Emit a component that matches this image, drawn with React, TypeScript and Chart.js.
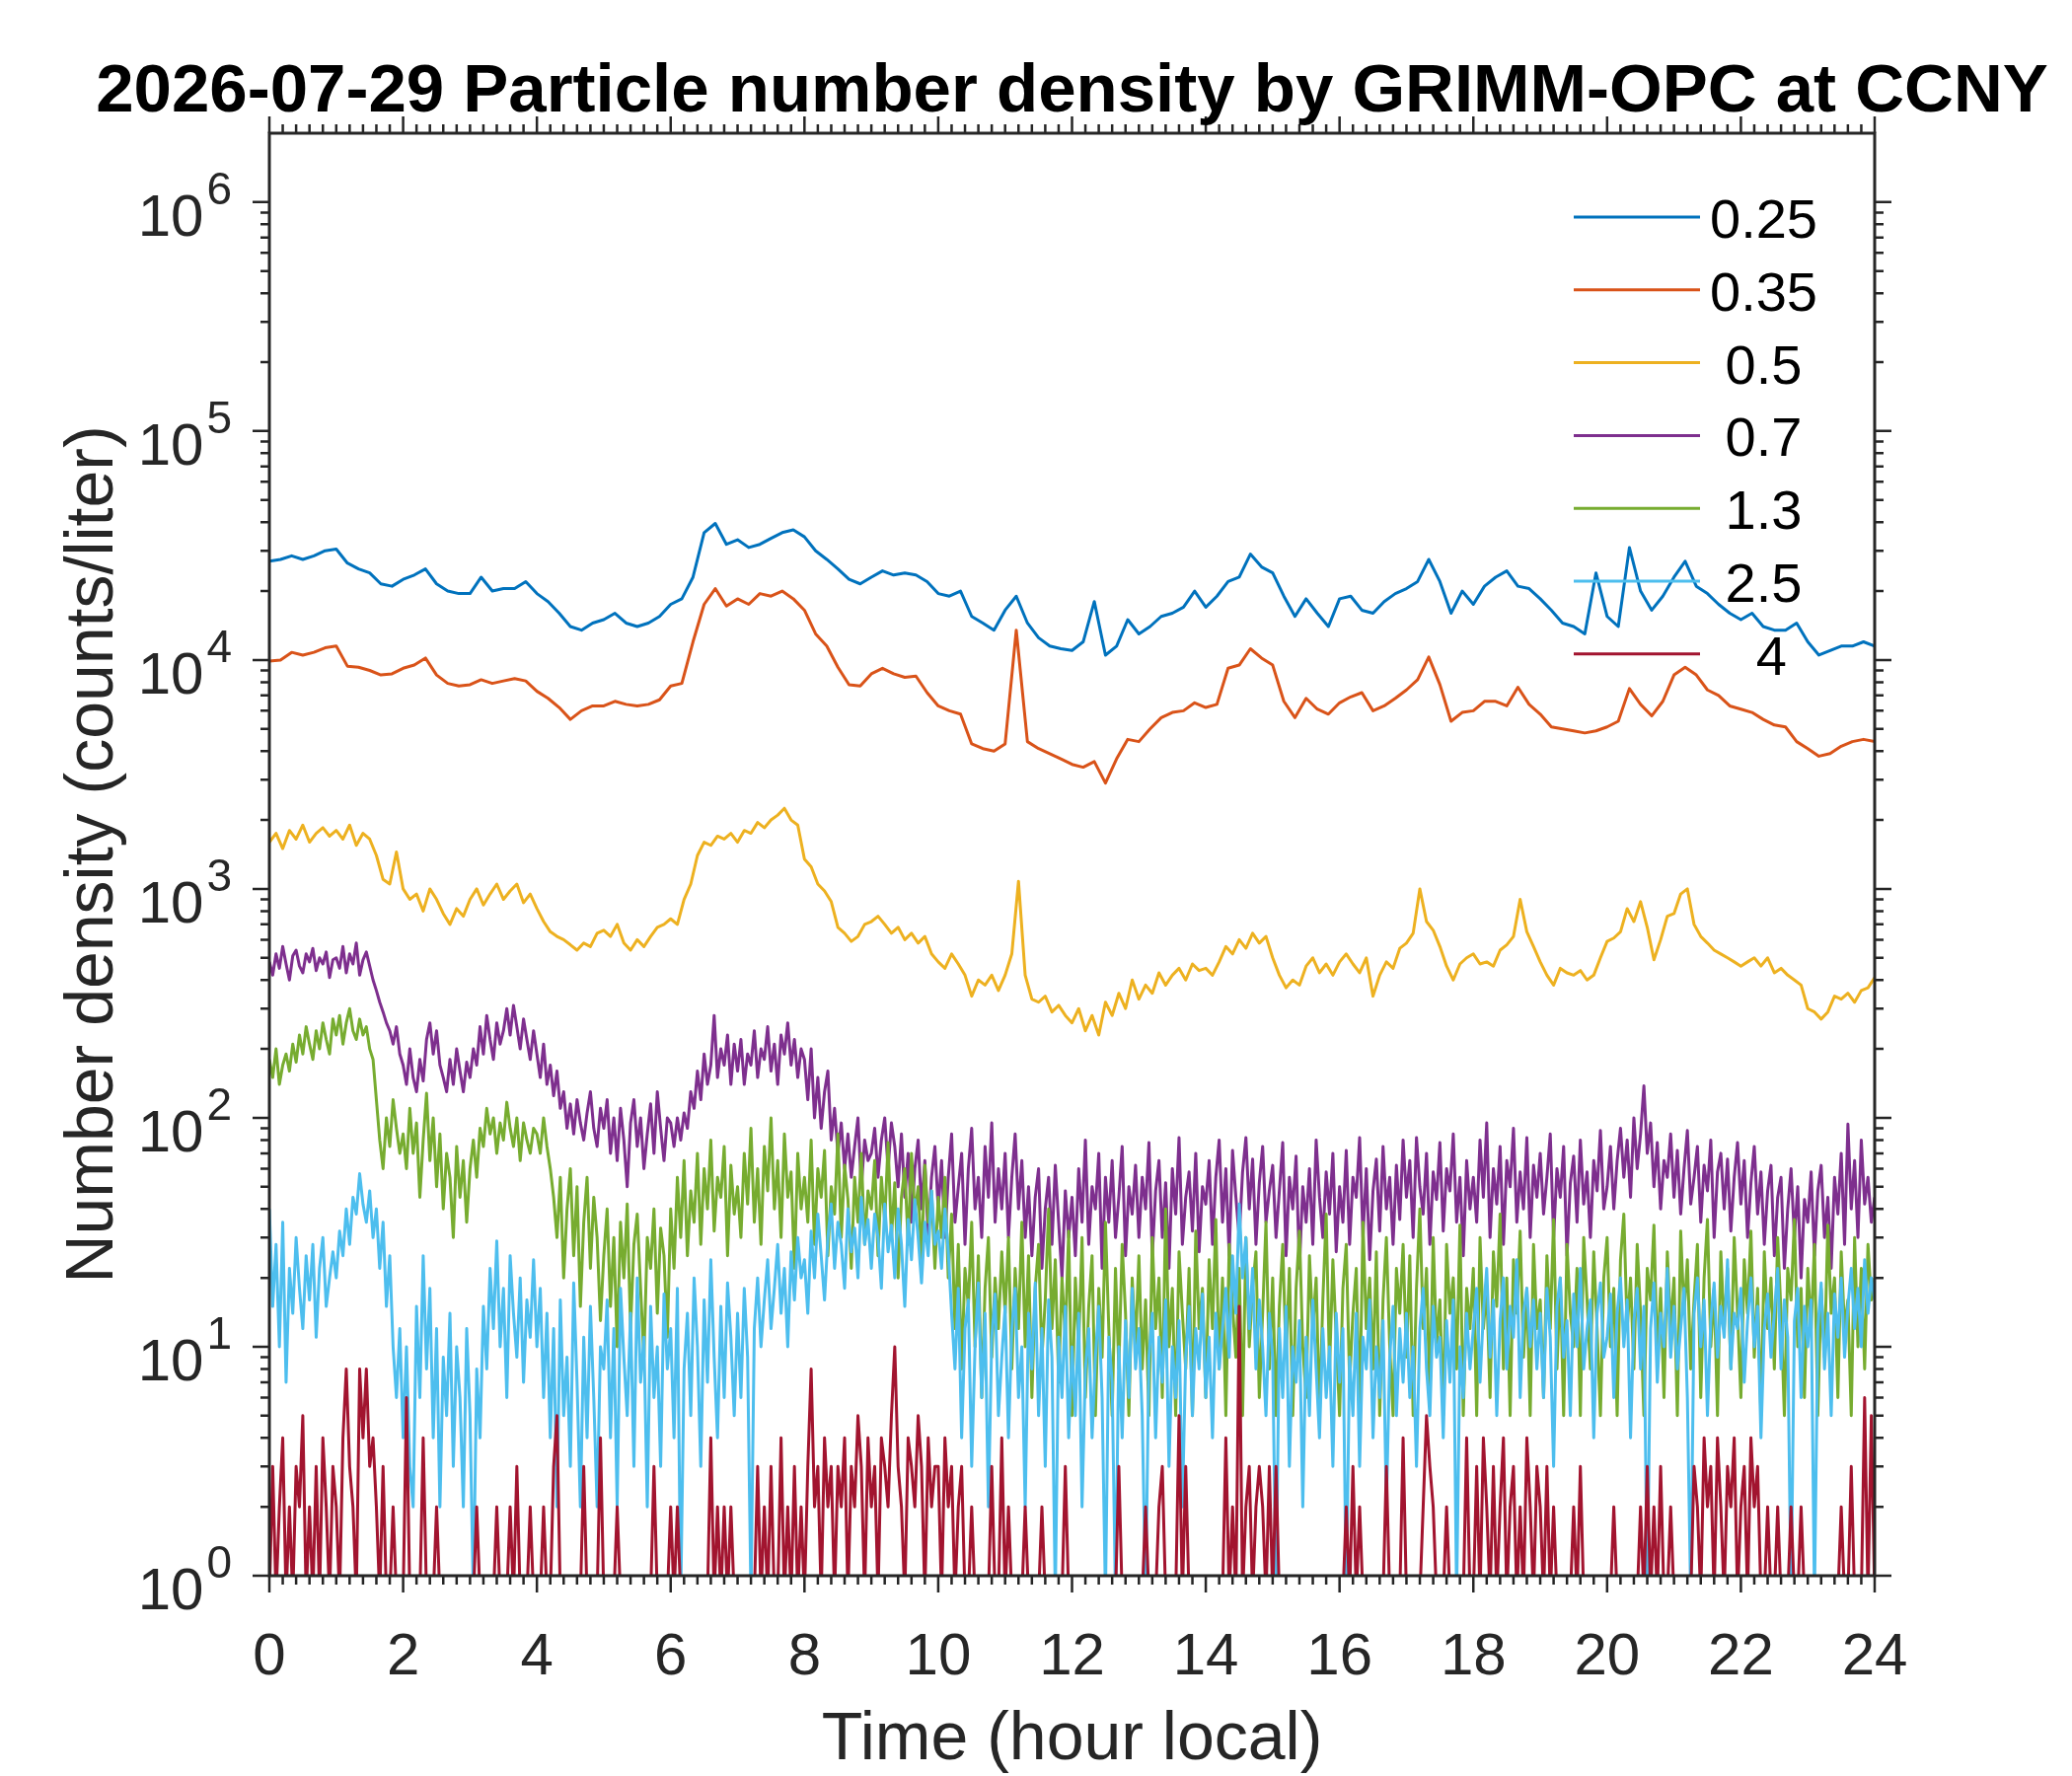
import { useEffect, useRef } from "react";
import { Chart, registerables } from "chart.js";

Chart.register(...registerables);

// ---------------- text ----------------
const TITLE = "2026-07-29 Particle number density by GRIMM-OPC at CCNY";
const X_LABEL = "Time (hour local)";
const Y_LABEL = "Number density (counts/liter)";
const SIZE_LABELS = ["0.25", "0.35", " 0.5", " 0.7", " 1.3", " 2.5", "   4"];
const COLORS = ["#0072BD", "#D95319", "#EDB120", "#7E2F8E", "#77AC30", "#4DBEEE", "#A2142F"];

// ---------------- axes ----------------
const X_MIN = 0;
const X_MAX = 24;
const X_TICKS = [0, 2, 4, 6, 8, 10, 12, 14, 16, 18, 20, 22, 24];
const X_MINOR_STEP = 0.2;
const Y_MIN = 1;
const Y_MAX = 2e6;
const Y_TICK_EXPONENTS = [0, 1, 2, 3, 4, 5, 6];

// sampling interval (hours) of each series
const STEP_COARSE = 1 / 6;
const STEP_MID = 0.1;
const STEP_FINE = 0.05;

// ---------------- data (counts/liter) ----------------
// 0.25 um, every 10 min
const N_025 = [
  27000, 27500, 28500, 27500, 28500, 30000,
  30500, 26500, 25000, 24000, 21500, 21000,
  22500, 23500, 25000, 21500, 20000, 19500,
  19500, 23000, 20000, 20500, 20500, 22000,
  19500, 18000, 16000, 14000, 13500, 14500,
  15000, 16000, 14500, 14000, 14500, 15500,
  17500, 18500, 23000, 36000, 39500, 32000,
  33500, 31000, 32000, 34000, 36000, 37000,
  34500, 30000, 27500, 25000, 22500, 21500,
  23000, 24500, 23500, 24000, 23500, 22000,
  19500, 19000, 20000, 15500, 14500, 13500,
  16500, 19000, 14500, 12500, 11500, 11200,
  11000, 12000, 18000, 10500, 11500, 15000,
  13000, 14000, 15500, 16000, 17000, 20000,
  17000, 19000, 22000, 23000, 29000, 25500,
  24000, 19000, 15500, 18500, 16000, 14000,
  18500, 19000, 16500, 16000, 18000, 19500,
  20500, 22000, 27500, 22000, 16000, 20000,
  17500, 21000, 23000, 24500, 21000, 20500,
  18500, 16500, 14500, 14000, 13000, 24000,
  15500, 14000, 31000, 20000, 16500, 19000,
  23000, 27000, 21000, 19500, 17500, 16000,
  15000, 16000, 14000, 13500, 13500, 14500,
  12000, 10500, 11000, 11500, 11500, 12000,
  11500,
];

// 0.35 um, every 10 min
const N_035 = [
  9900, 10000, 10800, 10500, 10800, 11300,
  11500, 9400, 9300, 9000, 8600, 8700,
  9200, 9500, 10200, 8600, 7900, 7700,
  7800, 8200, 7900, 8100, 8300, 8100,
  7300, 6800, 6200, 5500, 6000, 6300,
  6300, 6600, 6400, 6300, 6400, 6700,
  7700, 7900, 12000, 17500, 20500, 17200,
  18500, 17500, 19500, 19000, 20000, 18500,
  16500, 13000, 11500, 9300, 7800, 7700,
  8700, 9200, 8700, 8400, 8500, 7200,
  6300, 6000, 5800, 4300, 4100, 4000,
  4300, 13500, 4400, 4100, 3900, 3700,
  3500, 3400, 3600, 2900, 3700, 4500,
  4400, 5000, 5600, 5900, 6000, 6500,
  6200, 6400, 9200, 9500, 11200, 10200,
  9500, 6600, 5600, 6800, 6100, 5800,
  6500, 6900, 7200, 6000, 6300, 6800,
  7400, 8200, 10300, 7800, 5400, 5900,
  6000, 6600, 6600, 6300, 7600, 6400,
  5800, 5100, 5000, 4900, 4800, 4900,
  5100, 5400, 7500, 6400, 5700, 6600,
  8600, 9300, 8600, 7400, 7000, 6300,
  6100, 5900, 5500, 5200, 5100, 4400,
  4100, 3800, 3900, 4200, 4400, 4500,
  4400,
];

// 0.5 um, every 6 min
const N_05 = [
  1600, 1750, 1500, 1800, 1650, 1900, 1600, 1750, 1850, 1700,
  1800, 1650, 1900, 1550, 1750, 1650, 1400, 1100, 1050, 1450,
  1000, 900, 950, 800, 1000, 900, 780, 700, 820, 760,
  900, 1000, 850, 950, 1050, 900, 980, 1050, 870, 950,
  820, 720, 650, 620, 600, 570, 540, 580, 560, 640,
  660, 620, 700, 580, 540, 600, 560, 620, 680, 700,
  740, 700, 900, 1050, 1400, 1600, 1550, 1700, 1650, 1750,
  1600, 1800, 1750, 1950, 1850, 2000, 2100, 2250, 2000, 1900,
  1350, 1250, 1050, 980, 880, 680, 640, 590, 620, 700,
  720, 760, 700, 640, 680, 600, 640, 580, 620, 520,
  480, 450, 520, 470, 420, 340, 400, 380, 420, 360,
  420, 520, 1080, 420, 330, 320, 340, 290, 310, 280,
  260, 300, 240, 280, 230, 320, 280, 350, 300, 400,
  330, 380, 350, 430, 380, 420, 450, 400, 470, 440,
  450, 420, 480, 560, 520, 600, 550, 640, 580, 620,
  500, 420, 370, 400, 380, 460, 500, 430, 470, 420,
  480, 520, 470, 430, 500, 340, 420, 480, 450, 550,
  580, 640, 1000, 720, 660, 560, 460, 400, 470, 500,
  520, 470, 480, 460, 540, 570, 620, 900, 650, 560,
  480, 420, 380, 450, 430, 420, 440, 400, 420, 500,
  590, 610, 650, 820, 720, 880, 680, 490, 600, 760,
  780, 950, 1000, 700, 620, 580, 540, 520, 500, 480,
  460, 480, 500, 460, 500, 430, 450, 420, 400, 380,
  300, 290, 270, 290, 340, 330, 350, 320, 360, 370,
  410,
];

// 0.7 um, every 3 min
const N_07 = [
  480, 420, 520, 450, 560, 470, 400, 510, 540, 460, 430, 520, 480, 550, 440, 500, 470, 530, 410, 490,
  500, 450, 560, 430, 520, 470, 580, 420, 490, 530, 460, 400, 360, 320, 290, 260, 240, 210, 250, 190,
  170, 140, 200, 150, 130, 180, 145, 220, 260, 190, 240, 170, 150, 130, 180, 140, 200, 160, 130, 175,
  150, 200, 170, 250, 190, 280, 220, 180, 260, 210, 240, 300, 230, 310, 250, 200, 270, 220, 180, 240,
  190, 150, 210, 140, 170, 125, 160, 110, 130, 90, 115, 85, 120, 95, 80, 105, 130, 90, 75, 110,
  90, 120, 70, 100, 65, 110, 80, 50, 95, 120, 75, 100, 60, 85, 115, 70, 130, 90, 65, 100,
  95, 75, 100, 80, 105, 90, 130, 110, 160, 120, 190, 140, 170, 280, 150, 200, 170, 230, 140, 210,
  160, 220, 140, 190, 170, 240, 150, 200, 180, 250, 160, 210, 140, 230, 190, 260, 170, 220, 150, 200,
  180, 120, 200, 100, 150, 90, 130, 160, 80, 110, 70, 95, 60, 85, 55, 75, 100, 50, 80, 65,
  70, 90, 55, 80, 100, 60, 95, 75, 50, 85, 45, 70, 35, 60, 80, 40, 65, 30, 55, 75,
  40, 65, 30, 55, 85, 35, 50, 70, 28, 60, 90, 40, 55, 30, 75, 45, 95, 35, 60, 40,
  70, 30, 55, 85, 40, 65, 30, 50, 25, 45, 60, 22, 40, 55, 28, 62, 35, 20, 48, 30,
  45, 25, 60, 35, 80, 28, 50, 40, 70, 22, 55, 35, 65, 30, 45, 75, 25, 50, 38, 62,
  30, 55, 40, 78, 25, 48, 65, 30, 52, 22, 60, 38, 82, 28, 45, 58, 32, 70, 26, 50,
  42, 65, 28, 55, 80, 35, 60, 25, 72, 45, 30, 58, 82, 40, 66, 28, 52, 75, 35, 48,
  62, 30, 48, 78, 25, 55, 40, 68, 22, 50, 35, 60, 28, 80, 45, 30, 58, 38, 70, 26,
  50, 35, 72, 28, 55, 45, 82, 30, 60, 24, 48, 66, 32, 75, 40, 55, 28, 62, 36, 80,
  45, 65, 30, 82, 50, 38, 70, 28, 58, 44, 78, 32, 60, 48, 85, 35, 55, 25, 65, 40,
  55, 35, 80, 45, 95, 30, 60, 42, 75, 28, 65, 50, 90, 35, 58, 40, 82, 30, 62, 45,
  70, 38, 55, 85, 30, 60, 45, 75, 25, 52, 68, 35, 80, 42, 58, 30, 65, 48, 88, 40,
  50, 75, 40, 65, 90, 55, 80, 45, 100, 60, 85, 138, 70, 95, 50, 78, 40, 65, 55, 85,
  45, 72, 38, 60, 88, 42, 55, 75, 35, 62, 48, 80, 30, 58, 70, 40, 66, 32, 55, 78,
  42, 65, 30, 52, 75, 38, 58, 28, 48, 62, 25, 45, 55, 22, 40, 60, 30, 50, 20, 44,
  35, 58, 25, 48, 62, 30, 45, 22, 55, 38, 70, 28, 94, 40, 65, 30, 80, 42, 55, 35,
  45,
];

// 1.3 um, every 3 min
const N_13 = [
  180, 150, 200, 140, 170, 190, 160, 210, 175, 230, 190, 250, 210, 180, 240, 200, 260, 220, 190, 270,
  230, 280, 210, 260, 300, 240, 220, 270, 230, 250, 200, 180, 120, 80, 60, 100, 75, 120, 90, 70,
  85, 60, 110, 70, 95, 45, 80, 128, 65, 100, 50, 85, 40, 70, 55, 30, 75, 45, 65, 35,
  60, 80, 55, 90, 75, 110, 85, 100, 70, 95, 80, 117, 90, 75, 100, 65, 95, 80, 70, 90,
  85, 70, 100, 75, 60, 45, 30, 55, 20, 40, 60, 25, 50, 15, 35, 55, 22, 45, 30, 13,
  25, 40, 15, 30, 10, 35, 20, 42, 12, 28, 38, 18, 9, 30, 22, 40, 14, 33, 25, 11,
  40, 22, 55, 30, 65, 25, 48, 35, 70, 28, 60, 40, 80, 32, 55, 45, 75, 25, 62, 38,
  50, 30, 70, 42, 90, 35, 60, 28, 75, 48, 100, 40, 65, 30, 85, 45, 58, 22, 70, 40,
  55, 35, 80, 28, 60, 45, 72, 25, 50, 38, 85, 30, 62, 44, 22, 55, 35, 70, 28, 48,
  40, 65, 25, 55, 35, 78, 30, 52, 20, 45, 60, 28, 70, 38, 50, 24, 62, 35, 48, 22,
  45, 30, 55, 20, 38, 12, 28, 8, 22, 15, 35, 10, 25, 6, 18, 30, 9, 20, 12, 26,
  14, 30, 8, 22, 12, 35, 10, 25, 6, 18, 28, 9, 16, 40, 12, 24, 7, 20, 11, 32,
  5, 20, 10, 30, 6, 15, 25, 5, 18, 9, 35, 12, 5, 22, 8, 28, 14, 5, 20, 10,
  25, 8, 16, 5, 30, 12, 20, 6, 40, 10, 18, 5, 26, 14, 8, 22, 5, 32, 12, 18,
  6, 24, 12, 36, 8, 20, 5, 28, 15, 9, 22, 5, 30, 10, 18, 26, 6, 14, 35, 8,
  20, 5, 15, 28, 9, 22, 5, 18, 32, 10, 6, 25, 12, 20, 5, 16, 38, 8, 24, 11,
  5, 18, 28, 7, 14, 22, 5, 35, 12, 20, 8, 26, 5, 16, 30, 10, 5, 22, 14, 28,
  9, 25, 5, 18, 40, 12, 22, 6, 30, 10, 16, 5, 28, 14, 20, 8, 34, 5, 18, 12,
  22, 5, 30, 12, 18, 6, 26, 15, 38, 8, 20, 5, 24, 14, 32, 9, 18, 5, 28, 12,
  16, 6, 25, 12, 36, 8, 20, 5, 28, 14, 10, 22, 5, 30, 16, 8, 26, 12, 5, 20,
  30, 10, 18, 5, 24, 38, 12, 20, 8, 28, 14, 5, 22, 16, 34, 9, 18, 6, 26, 12,
  20, 5, 32, 14, 24, 8, 16, 28, 6, 20, 36, 10, 18, 5, 26, 12, 22, 8, 30, 14,
  6, 24, 14, 32, 9, 18, 5, 26, 12, 20, 8, 30, 14, 5, 22, 16, 36, 10, 18, 6,
  22, 12, 28, 5, 18, 9, 34, 14, 20, 6, 26, 12, 16, 5, 30, 10, 22, 8, 28, 16,
  20,
];

// 2.5 um, every 3 min (values below 1 fall under the axis)
const N_25 = [
  40, 15, 28, 10, 35, 7, 22, 14, 30, 18, 12, 25, 16, 28, 11, 22, 30, 15, 20, 26,
  20, 32, 25, 40, 28, 45, 38, 57, 42, 35, 48, 30, 40, 22, 35, 15, 25, 10, 6, 12,
  4, 10, 3, 2, 15, 6, 25, 8, 18, 4, 12, 2, 9, 5, 14, 3, 10, 6, 2, 12,
  5, 0.8, 8, 4, 15, 8, 22, 12, 29, 10, 18, 6, 25, 14, 9, 20, 7, 16, 11, 24,
  10, 18, 6, 14, 4, 12, 2, 16, 5, 9, 3, 19, 7, 2, 11, 4, 15, 6, 2, 10,
  8, 16, 4, 12, 2, 18, 9, 5, 14, 3, 20, 7, 11, 2, 15, 6, 10, 3, 17, 8,
  12, 4, 18, 0.8, 8, 14, 5, 20, 10, 3, 16, 7, 24, 9, 4, 15, 6, 19, 11, 5,
  14, 6, 18, 9, 0.8, 12, 20, 10, 16, 24, 12, 18, 28, 14, 22, 10, 26, 16, 30, 20,
  24, 14, 32, 20, 38, 25, 16, 30, 42, 22, 35, 28, 18, 40, 26, 33, 20, 45, 28, 36,
  22, 38, 30, 18, 42, 26, 34, 20, 40, 28, 15, 36, 24, 44, 30, 19, 35, 25, 48, 28,
  32, 22, 40, 26, 14, 8, 18, 4, 12, 16, 3, 10, 19, 6, 14, 2, 11, 17, 5, 9,
  15, 4, 12, 18, 6, 10, 2, 14, 8, 19, 5, 12, 3, 16, 9, 0.8, 11, 6, 15, 4,
  10, 5, 14, 2, 8, 12, 4, 9, 15, 6, 0.8, 11, 7, 0.8, 10, 4, 13, 6, 18, 8,
  12, 5, 0.8, 9, 14, 4, 11, 7, 16, 3, 10, 6, 13, 2, 9, 15, 5, 12, 8, 17,
  6, 11, 4, 14, 8, 12, 18, 9, 25, 14, 42, 20, 30, 12, 22, 8, 16, 10, 5, 14,
  9, 0.8, 12, 6, 15, 3, 10, 7, 13, 2, 11, 5, 16, 8, 4, 12, 6, 10, 3, 14,
  7, 12, 0.8, 9, 5, 14, 3, 11, 8, 16, 4, 10, 6, 13, 2, 9, 15, 5, 12, 7,
  14, 6, 10, 3, 12, 18, 8, 5, 15, 9, 11, 4, 13, 7, 16, 0.8, 10, 6, 14, 8,
  12, 18, 7, 14, 22, 9, 16, 5, 13, 20, 8, 15, 11, 24, 6, 14, 18, 10, 16, 8,
  14, 6, 18, 11, 3, 15, 20, 9, 13, 5, 17, 10, 22, 8, 12, 16, 4, 14, 19, 9,
  11, 17, 6, 14, 20, 10, 16, 4, 13, 18, 8, 15, 0.8, 12, 19, 7, 14, 10, 22, 9,
  15, 8, 12, 18, 6, 0.8, 14, 20, 10, 16, 5, 13, 19, 9, 15, 11, 24, 8, 14, 12,
  18, 7, 13, 20, 10, 15, 4, 12, 17, 9, 14, 22, 8, 16, 11, 0.8, 13, 18, 6, 15,
  10, 16, 0.8, 12, 19, 8, 14, 5, 17, 11, 20, 9, 15, 22, 12, 18, 10, 24, 14, 20,
  16,
];

// 4 um, every 3 min (values below 1 fall under the axis)
const N_4 = [
  0.8, 3, 0.8, 2, 4, 0.8, 2, 0.8, 3, 2, 5, 0.8, 2, 0.8, 3, 0.8, 4, 2, 0.8, 3,
  2, 0.8, 4, 8, 3, 2, 0.8, 8, 4, 8, 3, 4, 2, 0.8, 3, 0.8, 0.8, 2, 0.8, 0.8,
  0.8, 6, 0.8, 0.8, 0.8, 0.8, 4, 0.8, 0.8, 0.8, 2, 0.8, 0.8, 0.8, 0.8, 0.8, 0.8, 0.8, 0.8, 0.8,
  0.8, 0.8, 2, 0.8, 0.8, 0.8, 0.8, 0.8, 2, 0.8, 0.8, 0.8, 2, 0.8, 3, 0.8, 0.8, 0.8, 2, 0.8,
  0.8, 0.8, 2, 0.8, 0.8, 3, 5, 0.8, 0.8, 0.8, 0.8, 0.8, 0.8, 0.8, 3, 0.8, 0.8, 0.8, 0.8, 4,
  0.8, 0.8, 0.8, 0.8, 2, 0.8, 0.8, 0.8, 0.8, 0.8, 0.8, 0.8, 0.8, 0.8, 0.8, 3, 0.8, 0.8, 0.8, 0.8,
  2, 0.8, 2, 0.8, 0.8, 0.8, 0.8, 0.8, 0.8, 0.8, 0.8, 0.8, 4, 0.8, 2, 0.8, 2, 0.8, 2, 0.8,
  0.8, 0.8, 0.8, 0.8, 0.8, 0.8, 3, 0.8, 2, 0.8, 3, 0.8, 0.8, 4, 0.8, 2, 0.8, 3, 0.8, 2,
  0.8, 3, 8, 2, 3, 0.8, 4, 2, 3, 0.8, 3, 2, 4, 0.8, 3, 2, 5, 3, 0.8, 4,
  2, 3, 0.8, 4, 3, 2, 5, 10, 3, 2, 0.8, 4, 3, 2, 5, 3, 0.8, 4, 2, 3,
  3, 0.8, 4, 2, 3, 0.8, 2, 3, 0.8, 0.8, 2, 0.8, 0.8, 0.8, 0.8, 0.8, 3, 0.8, 0.8, 4,
  0.8, 2, 0.8, 0.8, 0.8, 0.8, 2, 0.8, 0.8, 0.8, 0.8, 2, 0.8, 0.8, 0.8, 0.8, 0.8, 0.8, 3, 0.8,
  0.8, 0.8, 0.8, 0.8, 0.8, 0.8, 0.8, 0.8, 0.8, 0.8, 0.8, 0.8, 0.8, 0.8, 3, 0.8, 0.8, 0.8, 0.8, 0.8,
  0.8, 0.8, 2, 0.8, 0.8, 0.8, 2, 3, 0.8, 0.8, 0.8, 0.8, 5, 0.8, 3, 0.8, 0.8, 0.8, 0.8, 0.8,
  0.8, 0.8, 0.8, 0.8, 0.8, 0.8, 4, 0.8, 2, 0.8, 15, 0.8, 2, 3, 0.8, 2, 3, 2, 0.8, 3,
  0.8, 3, 0.8, 0.8, 0.8, 0.8, 0.8, 0.8, 0.8, 0.8, 0.8, 0.8, 0.8, 0.8, 0.8, 0.8, 0.8, 0.8, 0.8, 0.8,
  0.8, 0.8, 2, 0.8, 3, 0.8, 2, 0.8, 0.8, 0.8, 0.8, 0.8, 0.8, 0.8, 3, 0.8, 0.8, 0.8, 0.8, 4,
  0.8, 0.8, 0.8, 0.8, 0.8, 2, 5, 3, 2, 0.8, 0.8, 0.8, 2, 0.8, 0.8, 0.8, 0.8, 0.8, 4, 0.8,
  0.8, 3, 0.8, 4, 2, 0.8, 3, 0.8, 2, 4, 0.8, 2, 3, 0.8, 2, 0.8, 4, 2, 0.8, 3,
  2, 0.8, 3, 0.8, 2, 0.8, 0.8, 0.8, 0.8, 0.8, 2, 0.8, 3, 0.8, 0.8, 0.8, 0.8, 0.8, 0.8, 0.8,
  0.8, 0.8, 2, 0.8, 0.8, 0.8, 0.8, 0.8, 0.8, 0.8, 2, 0.8, 3, 0.8, 2, 0.8, 3, 0.8, 0.8, 2,
  0.8, 0.8, 0.8, 0.8, 0.8, 0.8, 3, 2, 0.8, 4, 2, 3, 0.8, 4, 2, 0.8, 3, 2, 4, 0.8,
  2, 3, 0.8, 4, 2, 3, 0.8, 0.8, 2, 0.8, 0.8, 2, 0.8, 0.8, 0.8, 2, 0.8, 0.8, 2, 0.8,
  0.8, 0.8, 0.8, 0.8, 0.8, 0.8, 0.8, 0.8, 0.8, 0.8, 2, 0.8, 0.8, 3, 0.8, 0.8, 0.8, 6, 0.8, 5,
  0.8,
];

const SERIES_VALUES = [N_025, N_035, N_05, N_07, N_13, N_25, N_4];
const SERIES_STEPS = [STEP_COARSE, STEP_COARSE, STEP_MID, STEP_FINE, STEP_FINE, STEP_FINE, STEP_FINE];

// ---------------- style ----------------
const FONT = '"Liberation Sans", Arial, Helvetica, sans-serif';
const AXIS_COLOR = "#262626";
const CANVAS_W = 2100;
const CANVAS_H = 1800;

const axesPlugin = {
  id: "matlabAxes",
  beforeDraw(chart: any) {
    const ctx = chart.ctx;
    ctx.save();
    ctx.fillStyle = "#ffffff";
    ctx.fillRect(0, 0, chart.width, chart.height);
    ctx.restore();
  },
  afterDraw(chart: any) {
    const ctx: CanvasRenderingContext2D = chart.ctx;
    const a = chart.chartArea;
    const xs = chart.scales.x;
    const ys = chart.scales.y;
    const MAJOR = 17;
    const MINOR = 9;
    ctx.save();
    ctx.strokeStyle = AXIS_COLOR;
    ctx.lineCap = "butt";

    // ticks (outward, mirrored on all sides)
    ctx.lineWidth = 2.5;
    ctx.beginPath();
    const nMinor = Math.round((X_MAX - X_MIN) / X_MINOR_STEP);
    for (let i = 0; i <= nMinor; i++) {
      const v = X_MIN + i * X_MINOR_STEP;
      const px = xs.getPixelForValue(v);
      const major = X_TICKS.some((t) => Math.abs(t - v) < 1e-6);
      const len = major ? MAJOR : MINOR;
      ctx.moveTo(px, a.bottom);
      ctx.lineTo(px, a.bottom + len);
      ctx.moveTo(px, a.top);
      ctx.lineTo(px, a.top - len);
    }
    for (const e of Y_TICK_EXPONENTS) {
      for (let k = 1; k <= 9; k++) {
        const v = k * Math.pow(10, e);
        if (v >= Y_MAX) break;
        const py = ys.getPixelForValue(v);
        const len = k === 1 ? MAJOR : MINOR;
        ctx.moveTo(a.left - len, py);
        ctx.lineTo(a.left, py);
        ctx.moveTo(a.right, py);
        ctx.lineTo(a.right + len, py);
      }
    }
    ctx.stroke();

    // box
    ctx.lineWidth = 3;
    ctx.strokeRect(a.left, a.top, a.right - a.left, a.bottom - a.top);

    // x tick labels
    ctx.fillStyle = AXIS_COLOR;
    ctx.font = `60px ${FONT}`;
    ctx.textAlign = "center";
    ctx.textBaseline = "alphabetic";
    for (const t of X_TICKS) {
      ctx.fillText(String(t), xs.getPixelForValue(t), a.bottom + 100);
    }

    // y tick labels 10^n
    ctx.textAlign = "right";
    for (const e of Y_TICK_EXPONENTS) {
      const py = ys.getPixelForValue(Math.pow(10, e));
      const xr = a.left - 38;
      ctx.font = `46px ${FONT}`;
      const exp = String(e);
      const we = ctx.measureText(exp).width;
      ctx.fillText(exp, xr, py + 2);
      ctx.font = `60px ${FONT}`;
      ctx.fillText("10", xr - we - 3, py + 34);
    }

    // axis labels
    ctx.font = `68px ${FONT}`;
    ctx.textAlign = "center";
    ctx.fillText(X_LABEL, (a.left + a.right) / 2, 1783);
    ctx.save();
    ctx.translate(114, (a.top + a.bottom) / 2);
    ctx.rotate(-Math.PI / 2);
    ctx.fillText(Y_LABEL, 0, 0);
    ctx.restore();

    // title
    ctx.fillStyle = "#000000";
    ctx.font = `bold 69px ${FONT}`;
    ctx.fillText(TITLE, (a.left + a.right) / 2, 113);

    // legend (no box, no background)
    ctx.font = `56px ${FONT}`;
    ctx.textAlign = "left";
    ctx.lineWidth = 3;
    chart.data.datasets.forEach((ds: any, i: number) => {
      const yy = 220 + i * 73.8;
      ctx.strokeStyle = ds.borderColor;
      ctx.beginPath();
      ctx.moveTo(1595, yy);
      ctx.lineTo(1723, yy);
      ctx.stroke();
      ctx.fillStyle = "#000000";
      ctx.fillText(ds.label, 1733, yy + 21);
    });
    ctx.restore();
  },
};

export default function App() {
  const ref = useRef<HTMLCanvasElement | null>(null);

  useEffect(() => {
    document.body.style.margin = "0";
    const canvas = ref.current;
    if (!canvas) return;
    const n = SERIES_VALUES.length;
    const datasets = SERIES_VALUES.map((vals, si) => ({
      label: SIZE_LABELS[si],
      data: vals.map((v, i) => ({ x: i * SERIES_STEPS[si], y: v })),
      borderColor: COLORS[si],
      backgroundColor: COLORS[si],
      borderWidth: 3,
      pointRadius: 0,
      tension: 0,
      fill: false,
      spanGaps: false,
      borderJoinStyle: "round" as const,
      clip: 0,
      order: n - 1 - si,
    }));

    const chart = new Chart(canvas, {
      type: "line",
      data: { datasets },
      options: {
        animation: false,
        responsive: false,
        devicePixelRatio: 1,
        events: [],
        layout: { padding: { left: 0, right: CANVAS_W - 1900, top: 135, bottom: 0 } },
        plugins: {
          legend: { display: false },
          title: { display: false },
          tooltip: { enabled: false },
        },
        scales: {
          x: {
            type: "linear",
            min: X_MIN,
            max: X_MAX,
            position: "bottom",
            ticks: { display: false },
            grid: { display: false },
            border: { display: false },
            afterFit: (s: any) => {
              s.height = CANVAS_H - 1597;
            },
          },
          y: {
            type: "logarithmic",
            min: Y_MIN,
            max: Y_MAX,
            position: "left",
            ticks: { display: false },
            grid: { display: false },
            border: { display: false },
            afterFit: (s: any) => {
              s.width = 273;
            },
          },
        },
      },
      plugins: [axesPlugin],
    } as any);

    return () => chart.destroy();
  }, []);

  return (
    <div style={{ width: CANVAS_W, height: CANVAS_H }}>
      <canvas ref={ref} width={CANVAS_W} height={CANVAS_H} style={{ display: "block" }} />
    </div>
  );
}
